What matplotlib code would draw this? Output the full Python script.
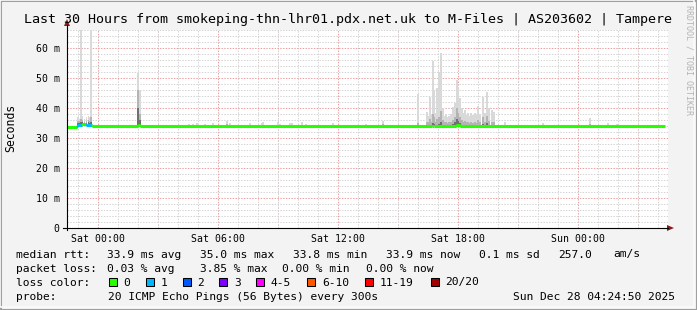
import matplotlib
matplotlib.use('Agg')
import matplotlib.pyplot as plt
from matplotlib.patches import Rectangle, Polygon
from matplotlib.lines import Line2D
from matplotlib.ticker import MultipleLocator

W, H = 697, 310
MONO = 'DejaVu Sans Mono'

# time axis in hours relative to Sat 00:00
x_start, x_end = -1.535, 28.515
tick_hours = [0, 6, 12, 18, 24]
tick_labels = ['Sat 00:00', 'Sat 06:00', 'Sat 12:00', 'Sat 18:00', 'Sun 00:00']
y_ticks = [0, 10, 20, 30, 40, 50, 60]
y_labels = ['0', '10 m', '20 m', '30 m', '40 m', '50 m', '60 m']

# median rtt (ms), drawn as steps; loss index picks the colour
median_hours = [-1.535, -1.03, -0.80, -0.60, -0.30, 2.00, 2.10, 16.70, 16.80, 17.90, 18.10, 28.37]
median_ms = [33.8, 34.5, 34.6, 34.4, 33.9, 34.3, 33.9, 34.1, 33.9, 34.3, 33.9]
median_loss = [0, 1, 0, 1, 0, 0, 0, 0, 0, 0, 0]

# smoke: one column per 5 minute step (hour, max, upper, lower in ms)
smoke_hours = [-0.99, -0.90, -0.85, -0.76, -0.66, -0.56, -0.46, -0.40, -0.35,
               2.03, 2.115, 4.58, 4.78, 4.97, 5.37, 5.78, 6.48, 6.60, 7.60, 8.20, 8.28,
               9.00, 9.10, 9.60, 9.70, 10.20, 10.40, 11.78, 13.40, 14.28,
               16.00, 16.45, 16.52, 16.60, 16.68, 16.75, 16.80, 16.88, 16.97, 17.02,
               17.08, 17.15, 17.22, 17.27, 17.33, 17.40, 17.50, 17.58, 17.67, 17.77,
               17.87, 17.95, 18.03, 18.12, 18.22, 18.30, 18.37, 18.45, 18.53, 18.60,
               18.67, 18.75, 18.87, 18.95, 19.02, 19.10, 19.25, 19.35, 19.45, 19.57,
               19.70, 19.82,
               20.37, 22.28, 24.62, 25.53, 25.95]
smoke_max = [37.0, 36.5, 70.0, 37.5, 36.5, 37.0, 37.5, 37.0, 70.0,
             51.6, 46.0, 34.7, 34.8, 34.9, 34.8, 34.9, 35.8, 35.0, 35.1, 34.9, 35.3,
             35.2, 34.7, 35.1, 34.9, 35.4, 34.8, 35.1, 34.7, 35.8,
             44.7, 38.8, 37.5, 43.8, 38.0, 55.7, 45.8, 38.5, 46.6, 39.5,
             52.1, 58.4, 38.5, 40.0, 37.5, 38.0, 37.1, 37.5, 38.0, 40.5,
             41.8, 49.3, 47.1, 43.2, 40.0, 38.5, 39.3, 37.8, 38.2, 37.5,
             38.5, 37.6, 38.2, 37.8, 40.7, 38.0, 43.8, 38.5, 45.4, 40.0,
             39.3, 38.8,
             35.4, 35.0, 36.6, 35.0, 34.8]
smoke_mid = [35.8, 35.6, 36.5, 36.0, 35.5, 35.8, 36.0, 35.6, 37.0,
             46.0, 38.0, 34.2, 34.2, 34.3, 34.2, 34.3, 34.6, 34.3, 34.4, 34.3, 34.5,
             34.4, 34.2, 34.4, 34.3, 34.5, 34.2, 34.4, 34.2, 34.6,
             35.0, 35.5, 35.2, 36.5, 35.5, 38.0, 37.0, 35.5, 36.5, 35.8,
             37.0, 39.0, 35.8, 36.0, 35.2, 35.5, 35.0, 35.2, 35.5, 36.0,
             37.0, 40.0, 38.5, 37.0, 36.0, 35.5, 35.8, 35.2, 35.5, 35.0,
             35.5, 35.0, 35.3, 35.0, 36.0, 35.2, 37.0, 35.5, 37.5, 35.8,
             35.5, 35.2,
             34.4, 34.2, 34.8, 34.2, 34.1]
smoke_low = [35.0, 35.0, 35.2, 35.2, 35.0, 35.1, 35.2, 35.0, 35.3,
             40.0, 36.0, 34.0, 34.0, 34.0, 34.0, 34.0, 34.1, 34.0, 34.0, 34.0, 34.1,
             34.0, 34.0, 34.0, 34.0, 34.1, 34.0, 34.0, 34.0, 34.1,
             34.0, 34.2, 34.0, 34.5, 34.2, 35.0, 34.8, 34.2, 34.5, 34.3,
             34.8, 35.5, 34.3, 34.5, 34.2, 34.2, 34.1, 34.2, 34.3, 34.6,
             35.2, 36.5, 35.8, 35.0, 34.5, 34.3, 34.4, 34.2, 34.2, 34.1,
             34.2, 34.1, 34.2, 34.1, 34.5, 34.2, 34.8, 34.2, 35.0, 34.4,
             34.3, 34.2,
             34.0, 34.0, 34.2, 34.0, 34.0]

loss_names = ['0', '1', '2', '3', '4-5', '6-10', '11-19', '20/20']
loss_colors = ['#26ff00', '#00b8ff', '#0059ff', '#7e00ff', '#ff00ff', '#ff5500', '#ff0000', '#a10000']
loss_swatch_x = [108.7, 145.7, 182.7, 219.3, 256.0, 307.3, 365.3, 430.7]

title = 'Last 30 Hours from smokeping-thn-lhr01.pdx.net.uk to M-Files | AS203602 | Tampere'
row_rtt = [(16, 'median rtt:'), (107.3, '33.9 ms avg'), (200.3, '35.0 ms max'),
           (293.3, '33.8 ms min'), (386.0, '33.9 ms now'), (479.3, '0.1 ms sd'),
           (558.3, '257.0'), (613.3, 'am/s')]
row_loss = [(16, 'packet loss:'), (107.3, '0.03 % avg'), (200.0, '3.85 % max'),
            (282.0, '0.00 % min'), (365.7, '0.00 % now')]
row_probe = [(16, 'probe:'), (107.9, '20 ICMP Echo Pings (56 Bytes) every 300s'),
             (513.3, 'Sun Dec 28 04:24:50 2025')]
LEG_SIZE = 8.1


def fx(px):
    return px / W


def fy(py):
    return 1 - py / H


fig = plt.figure(figsize=(W / 100, H / 100), dpi=100, facecolor='#f3f3f3')

# shaded outer frame
fig.patches.append(Rectangle((0, 0), 1, 1, transform=fig.transFigure, fill=False,
                             edgecolor='#a0a0a0', lw=2.2))
fig.patches.append(Rectangle((0, fy(307)), fx(694), fy(0) - fy(307), transform=fig.transFigure,
                             fill=False, edgecolor='#fbfbfb', lw=1.2))

ax = fig.add_axes([fx(67), fy(228), fx(668) - fx(67), fy(30) - fy(228)])
ax.set_facecolor('white')
ax.set_xlim(x_start, x_end)
ax.set_ylim(0, 66)

ax.yaxis.set_major_locator(MultipleLocator(10))
ax.yaxis.set_minor_locator(MultipleLocator(2))
ax.set_xticks(tick_hours, tick_labels)
ax.set_xticks([h for h in range(-1, 29) if h not in tick_hours], minor=True)
ax.xaxis.set_minor_formatter(plt.NullFormatter())
ax.grid(which='minor', color='#d4d4d4', lw=0.72, linestyle=(0, (1.4, 1.4)))
ax.grid(which='major', color='#eaa0a0', lw=0.72, linestyle=(0, (1.4, 1.4)))
ax.set_axisbelow(True)
ax.tick_params(which='both', length=0)
# red major grid every 3 hours, labels every 6
for h in [3, 9, 15, 21, 27]:
    ax.axvline(h, color='#eaa0a0', lw=0.72, linestyle=(0, (1.4, 1.4)), zorder=0.5)
ax.set_yticks(y_ticks, y_labels)
ax.tick_params(axis='x', pad=4.5, labelsize=7.1)
ax.tick_params(axis='y', pad=5.2, labelsize=7.1)
for lab in ax.get_xticklabels() + ax.get_yticklabels():
    lab.set_family(MONO)
for s in ax.spines.values():
    s.set_visible(False)

# smoke
ax.bar(smoke_hours, [m - 33.9 for m in smoke_max], bottom=33.9, width=0.09,
       color='#d9d9d9', lw=0, zorder=2)
ax.bar(smoke_hours, [m - 33.9 for m in smoke_mid], bottom=33.9, width=0.09,
       color='#b4b4b4', lw=0, zorder=2.1)
ax.bar(smoke_hours, [m - 33.9 for m in smoke_low], bottom=33.9, width=0.09,
       color='#707070', lw=0, zorder=2.2)

# median line, coloured by loss
for i in range(len(median_ms)):
    ax.plot([median_hours[i], median_hours[i + 1]], [median_ms[i], median_ms[i]],
            color=loss_colors[median_loss[i]], lw=2.2, solid_capstyle='butt', zorder=3)
for i in range(1, len(median_ms)):
    ax.plot([median_hours[i], median_hours[i]], [median_ms[i - 1], median_ms[i]],
            color=loss_colors[median_loss[i]], lw=1.0, zorder=3)

# axes with arrows
fig.add_artist(Line2D([fx(67), fx(67)], [fy(230), fy(25)], color='black', lw=0.8))
fig.add_artist(Line2D([fx(63), fx(668)], [fy(228), fy(228)], color='black', lw=0.8))
fig.add_artist(Polygon([(fx(64), fy(26)), (fx(70), fy(26)), (fx(67), fy(19))],
                       closed=True, transform=fig.transFigure, color='#8b1a1a', lw=0))
fig.add_artist(Polygon([(fx(667), fy(225)), (fx(667), fy(231)), (fx(674), fy(228))],
                       closed=True, transform=fig.transFigure, color='#8b1a1a', lw=0))

fig.text(fx(348.5), fy(19.5), title, family=MONO, fontsize=9.6, ha='center', va='center')
fig.text(fx(11), fy(128), 'Seconds', family=MONO, fontsize=8.3, rotation=90,
         ha='center', va='center')
fig.text(fx(688.5), fy(5), 'RRDTOOL / TOBI OETIKER', family=MONO, fontsize=6.0,
         rotation=270, ha='center', va='top', color='#b4b4b4')

# legend block
for x, t in row_rtt:
    fig.text(fx(x), fy(257.5), t, family=MONO, fontsize=LEG_SIZE, va='baseline')
for x, t in row_loss:
    fig.text(fx(x), fy(271.5), t, family=MONO, fontsize=LEG_SIZE, va='baseline')
fig.text(fx(16), fy(285.5), 'loss color:', family=MONO, fontsize=LEG_SIZE, va='baseline')
for x, name, c in zip(loss_swatch_x, loss_names, loss_colors):
    fig.patches.append(Rectangle((fx(x), fy(286)), fx(8), fy(278) - fy(286),
                                 transform=fig.transFigure, facecolor=c,
                                 edgecolor='black', lw=0.75))
    fig.text(fx(x + 14.5), fy(285.5), name, family=MONO, fontsize=LEG_SIZE, va='baseline')
for x, t in row_probe:
    fig.text(fx(x), fy(299.5), t, family=MONO, fontsize=LEG_SIZE, va='baseline')

fig.savefig('out.png', dpi=100, facecolor=fig.get_facecolor())
